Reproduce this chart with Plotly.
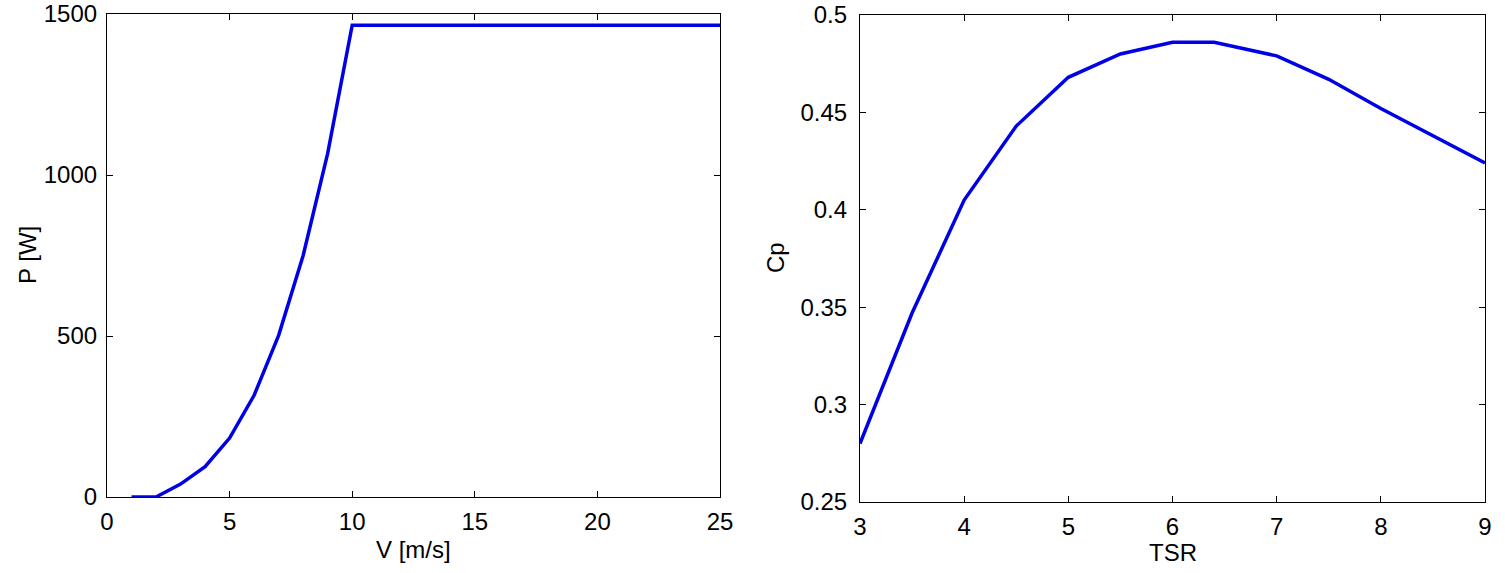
import plotly.graph_objects as go

# Left panel: power curve
wind_speed = [1, 2, 3, 4, 5, 6, 7, 8, 9, 10, 11, 12, 13, 14, 15, 16, 17, 18, 19, 20, 21, 22, 23, 24, 25]
power = [0, 0, 40, 94, 183, 316, 502, 750, 1067, 1465, 1465, 1465, 1465, 1465, 1465,
         1465, 1465, 1465, 1465, 1465, 1465, 1465, 1465, 1465, 1465]

# Right panel: Cp vs TSR
tsr = [3, 3.5, 4, 4.5, 5, 5.5, 6, 6.4, 7, 7.5, 8, 8.5, 9]
cp = [0.280, 0.347, 0.405, 0.443, 0.468, 0.480, 0.486, 0.486, 0.479, 0.467, 0.452, 0.438, 0.424]

left_xticks = [0, 5, 10, 15, 20, 25]
left_yticks = [0, 500, 1000, 1500]
right_xticks = [3, 4, 5, 6, 7, 8, 9]
right_yticks = [0.25, 0.3, 0.35, 0.4, 0.45, 0.5]
right_yticklabels = ["0.25", "0.3", "0.35", "0.4", "0.45", "0.5"]

W, H = 1505, 573
FONT = "Liberation Sans, Arial, Helvetica, sans-serif"
FS = 24
LINE_COLOR = "#0000e6"


def px_x(x):
    return x / W


def px_y(y):
    return (H - y) / H


fig = go.Figure()
fig.add_trace(go.Scatter(x=wind_speed, y=power, mode="lines",
                         line=dict(color=LINE_COLOR, width=3.5),
                         xaxis="x", yaxis="y", showlegend=False))
fig.add_trace(go.Scatter(x=tsr, y=cp, mode="lines",
                         line=dict(color=LINE_COLOR, width=3.5),
                         xaxis="x2", yaxis="y2", showlegend=False))

axis_common = dict(showgrid=False, zeroline=False, showline=True, linecolor="black",
                   linewidth=1.2, mirror="ticks", ticks="inside", ticklen=6,
                   tickcolor="black", tickwidth=1, automargin=False,
                   tickfont=dict(family=FONT, size=FS, color="black"))

fig.update_layout(
    template="none",
    width=W, height=H,
    margin=dict(l=0, r=0, t=0, b=0, pad=0),
    paper_bgcolor="white", plot_bgcolor="white",
    font=dict(family=FONT, size=FS, color="black"),
    xaxis=dict(domain=[px_x(107), px_x(720)], anchor="y", range=[0, 25],
               tickvals=left_xticks, ticklabelstandoff=3, **axis_common),
    yaxis=dict(domain=[px_y(497), px_y(14)], anchor="x", range=[0, 1500],
               tickvals=left_yticks, ticklabelstandoff=4, **axis_common),
    xaxis2=dict(domain=[px_x(860), px_x(1485)], anchor="y2", range=[3, 9],
                tickvals=right_xticks, ticklabelstandoff=3, **axis_common),
    yaxis2=dict(domain=[px_y(502), px_y(15)], anchor="x2", range=[0.25, 0.5],
                tickvals=right_yticks, ticktext=right_yticklabels,
                ticklabelstandoff=7, **axis_common),
    annotations=[
        dict(text="V [m/s]", x=px_x((107 + 720) / 2), y=px_y(549), xref="paper", yref="paper",
             showarrow=False, xanchor="center", yanchor="middle",
             font=dict(family=FONT, size=FS, color="black")),
        dict(text="P [W]", x=px_x(28), y=px_y(255), xref="paper", yref="paper",
             showarrow=False, xanchor="center", yanchor="middle", textangle=-90,
             font=dict(family=FONT, size=FS, color="black")),
        dict(text="TSR", x=px_x((860 + 1485) / 2), y=px_y(552), xref="paper", yref="paper",
             showarrow=False, xanchor="center", yanchor="middle",
             font=dict(family=FONT, size=FS, color="black")),
        dict(text="Cp", x=px_x(775), y=px_y(258), xref="paper", yref="paper",
             showarrow=False, xanchor="center", yanchor="middle", textangle=-90,
             font=dict(family=FONT, size=FS, color="black")),
    ],
)

fig.write_html("out.html", config={"displayModeBar": False},
               post_script="document.body.style.margin='0';")
